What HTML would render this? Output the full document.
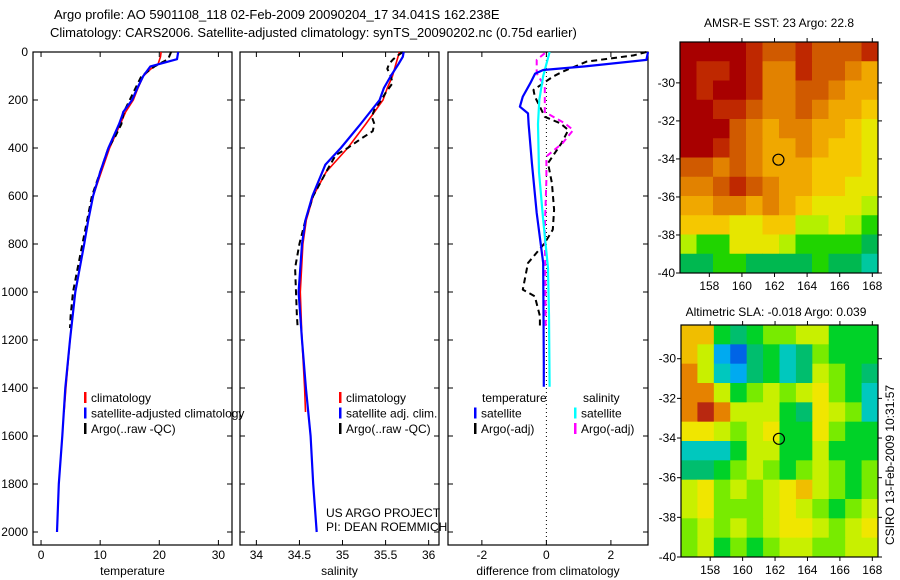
<!DOCTYPE html>
<html><head><meta charset="utf-8"><style>
html,body{margin:0;padding:0;background:#fff;}
svg{display:block;font-family:"Liberation Sans",sans-serif;}
</style></head><body>
<svg id="fig" width="900" height="580" viewBox="0 0 900 580">
<text x="54" y="19" font-size="13">Argo profile: AO 5901108_118 02-Feb-2009 20090204_17 34.041S 162.238E</text>
<text x="50" y="37" font-size="13">Climatology: CARS2006. Satellite-adjusted climatology: synTS_20090202.nc (0.75d earlier)</text>
<text x="779" y="27" font-size="12" text-anchor="middle">AMSR-E SST: 23 Argo: 22.8</text>
<text x="776" y="316" font-size="12" text-anchor="middle">Altimetric SLA: -0.018 Argo: 0.039</text>
<text transform="translate(894,465) rotate(-90)" font-size="12" text-anchor="middle">CSIRO 13-Feb-2009 10:31:57</text>
<text x="326" y="517" font-size="12">US ARGO PROJECT</text>
<text x="326" y="531" font-size="12">PI: DEAN ROEMMICH</text>
<g id="g"></g>
</svg>
<script>
// ---- depth axis shared ----
const depthTicks = [0,200,400,600,800,1000,1200,1400,1600,1800,2000];
// ---- temperature panel data ----
const tempTicks = [0,10,20,30];
const tClimDepth = [0,20,50,70,100,150,200,250,300,400,500,600,700,800,1000,1200,1400,1500];
const tClimVal   = [20.3,20.2,19.8,18.6,17.3,16.4,15.6,14.3,13.4,11.6,10.2,8.8,8.0,7.3,5.8,4.9,4.2,3.9];
const tSatDepth = [0,30,60,100,150,200,250,260,300,400,500,600,700,800,1000,1200,1400,1600,1800,2000];
const tSatVal   = [23.2,23.0,18.5,17.3,16.3,15.4,13.9,13.8,13.2,11.4,10.0,8.8,8.0,7.3,5.8,4.9,4.1,3.6,3.0,2.7];
const tArgoDepth = [0,30,60,100,150,200,250,300,350,400,500,600,700,800,900,1000,1100,1150];
const tArgoVal   = [22.0,21.5,19.2,17.0,16.0,15.0,14.0,13.6,12.6,11.4,10.0,8.6,7.8,7.0,6.2,5.4,5.0,4.9];
// ---- salinity panel data ----
const salTicks = [34,34.5,35,35.5,36];
const sClimDepth = [0,50,100,150,200,300,400,500,600,700,800,1000,1200,1400,1500];
const sClimVal   = [35.66,35.62,35.58,35.52,35.47,35.27,35.06,34.81,34.66,34.58,34.54,34.51,34.53,34.56,34.57];
const sSatDepth = [0,20,50,100,150,200,300,400,470,600,700,800,1000,1200,1400,1600,1800,2000];
const sSatVal   = [35.71,35.70,35.65,35.56,35.48,35.43,35.21,34.98,34.80,34.65,34.57,34.53,34.49,34.53,34.575,34.63,34.66,34.70];
const sArgoDepth = [0,15,30,50,70,100,130,170,200,240,270,300,330,360,400,430,500,600,700,800,900,1000,1100,1150];
const sArgoVal   = [35.70,35.64,35.59,35.54,35.52,35.56,35.58,35.50,35.45,35.37,35.34,35.37,35.35,35.22,35.06,34.92,34.81,34.66,34.57,34.50,34.45,34.46,34.47,34.48];
// ---- difference panel data ----
const diffTicks = [-2,0,2];
const dTSatDepth = [0,33,60,75,90,130,186,228,256,300,463,671,879,1100,1296,1395];
const dTSatVal   = [3.5,3.1,1.2,-0.1,-0.35,-0.5,-0.73,-0.82,-0.57,-0.55,-0.45,-0.3,-0.1,-0.09,-0.08,-0.08];
const dSSatDepth = [0,100,200,300,500,700,900,1100,1395];
const dSSatVal   = [0.1,-0.1,-0.22,-0.26,-0.23,-0.1,0.05,0.08,0.1];
const dTArgoDepth = [0,14,40,82,103,158,186,228,270,297,325,380,463,546,657,740,796,879,990,1018,1100,1150];
const dTArgoVal   = [3.1,2.7,1.25,0.5,0.2,-0.4,-0.36,-0.2,-0.05,0.43,0.68,0.47,0.05,0.17,0.24,0.2,-0.05,-0.57,-0.73,-0.36,-0.2,-0.2];
const dSArgoDepth = [5,33,89,144,250,297,325,380,435,530,740,950,1150];
const dSArgoVal   = [-0.05,-0.3,-0.3,-0.05,-0.05,0.57,0.83,0.5,0.0,0.0,-0.05,-0.03,-0.02];
// ---- map data ----
const mapLonTicks = [158,160,162,164,166,168];
const mapLatTicks = [-30,-32,-34,-36,-38,-40];
const sstGrid = [
[0,0,0,0,1,2,2,1,2,2,2,1],
[0,1,1,0,1,3,3,1,2,2,3,4],
[0,1,0,0,1,3,3,2,2,3,4,4],
[0,0,1,1,2,3,3,2,3,4,4,5],
[0,0,0,2,3,4,3,3,4,4,5,6],
[0,0,1,2,3,4,4,3,4,5,5,6],
[2,2,3,2,3,4,4,4,5,5,5,6],
[3,3,2,1,2,3,4,4,5,5,6,6],
[4,4,3,3,4,3,4,5,6,6,6,7],
[5,5,5,6,6,5,5,7,7,6,7,8],
[7,8,8,6,6,6,7,8,8,8,8,9],
[9,9,8,8,9,9,9,9,8,9,9,10]];
const slaGrid = [
[8,8,4,3,4,5,5,6,6,4,4,4],
[8,6,1,0,3,4,2,3,5,4,4,4],
[9,6,2,1,3,4,2,3,6,5,4,3],
[9,9,6,4,5,6,5,6,7,5,4,2],
[9,10,9,6,6,6,4,3,7,6,5,2],
[7,7,6,5,6,7,4,4,7,5,4,4],
[2,2,2,4,6,6,4,4,6,4,4,4],
[3,3,4,5,6,5,4,5,6,5,4,5],
[6,7,5,6,5,6,7,8,6,5,4,5],
[6,7,5,5,5,6,7,6,5,4,5,6],
[5,6,5,6,5,6,7,7,6,5,6,7],
[5,6,4,5,4,5,6,6,5,5,6,6]];
const argoPos = [162.24,-34.04];

const sstPal = ['#a80000','#bf2800','#d05a00','#e28200','#f0a800','#f5c800','#e6e600','#b4f000','#20d400','#00b850','#00c8a0'];
const slaPal = ['#0064e6','#00aaf0','#00c8be','#00be6e','#00d228','#78eb00','#c8f000','#f0e600','#f0be00','#e68200','#b82810'];

const NS='http://www.w3.org/2000/svg';
const G=document.getElementById('g');
function mk(tag,at,parent){const e=document.createElementNS(NS,tag);for(const k in at)e.setAttribute(k,at[k]);(parent||G).appendChild(e);return e;}

const Y0=52, Y1=545;
function yD(d){return Y0+d*0.24;}

function panel(name,x0,x1,vmin,vmax,ticks,label,showDepthLabels){
  const g=mk('g',{});
  
  
  const xs=v=>x0+(v-vmin)/(vmax-vmin)*(x1-x0);
  const fr=mk('rect',{x:x0,y:Y0,width:x1-x0,height:Y1-Y0,fill:'none',stroke:'#000','stroke-width':1.2},g);
  
  
  depthTicks.forEach(d=>{
    const y=yD(d);
    mk('line',{x1:x0,x2:x0+5,y1:y,y2:y,stroke:'#000'},g);
    mk('line',{x1:x1,x2:x1-5,y1:y,y2:y,stroke:'#000'},g);
    if(showDepthLabels){
      const t=mk('text',{x:x0-5,y:y+4,'font-size':12,'text-anchor':'end'},g);
      
      
      t.textContent=d;
    }
  });
  ticks.forEach(v=>{
    const x=xs(v);
    mk('line',{x1:x,x2:x,y1:Y1,y2:Y1-5,stroke:'#000'},g);
    mk('line',{x1:x,x2:x,y1:Y0,y2:Y0+5,stroke:'#000'},g);
    const t=mk('text',{x:x,y:Y1+14,'font-size':12,'text-anchor':'middle'},g);
    
    
    t.textContent=v;
  });
  const lb=mk('text',{x:(x0+x1)/2,y:Y1+30,'font-size':12,'text-anchor':'middle'},g);
  
  
  lb.textContent=label;
  return {g,xs,x0,x1};
}
function line(p,depths,vals,color,w,dash,nm){
  const pts=depths.map((d,i)=>{let x=p.xs(vals[i]);x=Math.max(p.x0,Math.min(p.x1,x));return x.toFixed(1)+','+yD(d).toFixed(1);}).join(' ');
  const at={points:pts,fill:'none',stroke:color,'stroke-width':w,'stroke-linejoin':'round'};
  if(dash)at['stroke-dasharray']=dash;
  const e=mk('polyline',at,p.g);
  
  
}
function legend(p,x,y,items){
  items.forEach((it,i)=>{
    const yy=y+i*15.5;
    mk('rect',{x:x,y:yy-10,width:2.5,height:11,fill:it[1]},p.g);
    const t=mk('text',{x:x+7,y:yy,'font-size':12},p.g);
    
    
    t.textContent=it[0];
  });
}

const pT=panel('temperature-panel',33,232,-1.36,32.3,tempTicks,'temperature',true);
line(pT,tClimDepth,tClimVal,'#f00',1.6,null,'temperature-climatology-line');
line(pT,tArgoDepth,tArgoVal,'#000',2,'6,4','temperature-argo-line');
line(pT,tSatDepth,tSatVal,'#00f',2.2,null,'temperature-satellite-line');
legend(pT,84,402,[['climatology','#f00'],['satellite-adjusted climatology','#00f'],['Argo(..raw -QC)','#000']]);

const pS=panel('salinity-panel',240,439,33.81,36.12,salTicks,'salinity',false);
line(pS,sClimDepth,sClimVal,'#f00',1.6,null,'salinity-climatology-line');
line(pS,sArgoDepth,sArgoVal,'#000',2,'6,4','salinity-argo-line');
line(pS,sSatDepth,sSatVal,'#00f',2.2,null,'salinity-satellite-line');
legend(pS,339,402,[['climatology','#f00'],['satellite adj. clim.','#00f'],['Argo(..raw -QC)','#000']]);

const pD=panel('difference-panel',448,648,-3.05,3.15,diffTicks,'difference from climatology',false);
const zx=pD.xs(0);
const zl=mk('line',{x1:zx,x2:zx,y1:Y0,y2:Y1,stroke:'#000','stroke-width':1,'stroke-dasharray':'1,3'},pD.g);


line(pD,dTArgoDepth,dTArgoVal,'#000',2,'6,4','temp-diff-argo-line');
line(pD,dSArgoDepth,dSArgoVal,'#f0f',2,'6,4','sal-diff-argo-line');
line(pD,dSSatDepth,dSSatVal,'#0ff',2.2,null,'sal-diff-satellite-line');
line(pD,dTSatDepth,dTSatVal,'#00f',2.2,null,'temp-diff-satellite-line');
{const t=mk('text',{x:482,y:402,'font-size':12},pD.g);t.textContent='temperature';
 
 
 const t2=mk('text',{x:583,y:402,'font-size':12},pD.g);t2.textContent='salinity';
 
 }
legend(pD,474,417.5,[['satellite','#00f'],['Argo(-adj)','#000']]);
legend(pD,574,417.5,[['satellite','#0ff'],['Argo(-adj)','#f0f']]);

function map(name,x0,x1,y0,y1,lat0,grid,pal){
  const g=mk('g',{});
  
  
  const lon0=156.2, lon1=168.35, lat1=-40;
  const xs=v=>x0+(v-lon0)/(lon1-lon0)*(x1-x0);
  const ys=v=>y0+(lat0-v)/(lat0-lat1)*(y1-y0);
  const nr=grid.length,nc=grid[0].length;
  const dlon=(lon1-lon0)/nc,dlat=(lat0-lat1)/nr;
  grid.forEach((row,r)=>row.forEach((v,c)=>{
    const xa=xs(lon0+c*dlon),xb=xs(lon0+(c+1)*dlon),ya=ys(lat0-r*dlat),yb=ys(lat0-(r+1)*dlat);
    const e=mk('rect',{x:xa.toFixed(2),y:ya.toFixed(2),width:(xb-xa+0.5).toFixed(2),height:(yb-ya+0.5).toFixed(2),fill:pal[v]},g);
    
    
  }));
  mk('rect',{x:x0,y:y0,width:x1-x0,height:y1-y0,fill:'none',stroke:'#000','stroke-width':1.2},g);
  mapLonTicks.forEach(v=>{const x=xs(v);
    mk('line',{x1:x,x2:x,y1:y0,y2:y0-4,stroke:'#000'},g);
    mk('line',{x1:x,x2:x,y1:y1,y2:y1+4,stroke:'#000'},g);
    const t=mk('text',{x:x,y:y1+17,'font-size':12,'text-anchor':'middle'},g);
    
    
    t.textContent=v;});
  mapLatTicks.forEach(v=>{const y=ys(v);
    mk('line',{x1:x0,x2:x0-4,y1:y,y2:y,stroke:'#000'},g);
    mk('line',{x1:x1,x2:x1+4,y1:y,y2:y,stroke:'#000'},g);
    const t=mk('text',{x:x0-5,y:y+4,'font-size':12,'text-anchor':'end'},g);
    
    
    t.textContent=v;});
  const c=mk('circle',{cx:xs(argoPos[0]),cy:ys(argoPos[1]),r:5.5,fill:'none',stroke:'#000','stroke-width':1.2},g);
  
  
}
map('sst-map',680,878,42,273,-27.85,sstGrid,sstPal);
map('sla-map',681,878,325,557,-28.3,slaGrid,slaPal);
</script>
</body></html>
